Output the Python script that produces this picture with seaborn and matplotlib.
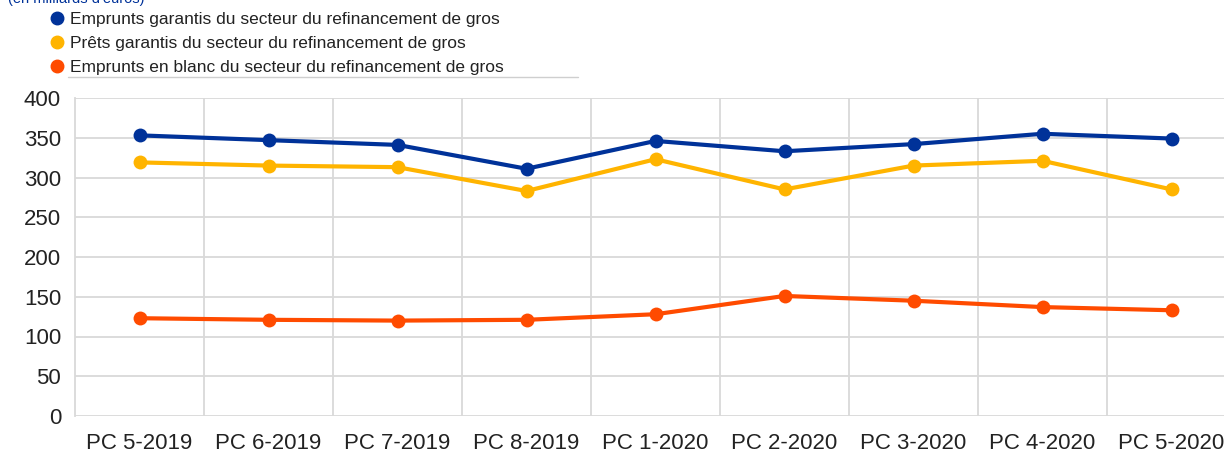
import numpy as np
import pandas as pd
import seaborn as sns
import matplotlib.pyplot as plt
from matplotlib.lines import Line2D

periods = ['PC 5-2019', 'PC 6-2019', 'PC 7-2019', 'PC 8-2019', 'PC 1-2020',
           'PC 2-2020', 'PC 3-2020', 'PC 4-2020', 'PC 5-2020']
emprunts_garantis = [353, 347, 341, 311, 346, 333, 342, 355, 349]
prets_garantis = [319, 315, 313, 283, 323, 285, 315, 321, 285]
emprunts_blanc = [123, 121, 120, 121, 128, 151, 145, 137, 133]

series_names = ['Emprunts garantis du secteur du refinancement de gros',
                'Prêts garantis du secteur du refinancement de gros',
                'Emprunts en blanc du secteur du refinancement de gros']
colors = ['#003299', '#FFB400', '#FF4B00']

df = pd.concat([
    pd.DataFrame({'period': periods, 'value': vals, 'series': name})
    for name, vals in zip(series_names, [emprunts_garantis, prets_garantis, emprunts_blanc])
])
df['x'] = df['period'].map({p: i for i, p in enumerate(periods)})

sns.set_style('white')
plt.rcParams['font.family'] = ['Liberation Sans', 'DejaVu Sans']

fig = plt.figure(figsize=(12.24, 4.54), dpi=100)
ax = fig.add_axes([75 / 1224, 38 / 454, 1161 / 1224, 318 / 454])

sns.lineplot(data=df, x='x', y='value', hue='series', palette=colors,
             marker='o', markersize=10, markeredgewidth=0, linewidth=3,
             legend=False, ax=ax)

ax.set_xlim(-0.5, len(periods) - 0.5)
ax.set_ylim(0, 400)
ax.set_yticks(np.arange(0, 401, 50))
ax.set_xticks(range(len(periods)))
ax.set_xticklabels(periods)
ax.set_xticks(np.arange(0.5, len(periods) - 1, 1), minor=True)
ax.tick_params(axis='both', which='major', length=0, labelsize=16, colors='#222222')
ax.tick_params(axis='x', which='major', pad=12)
ax.tick_params(axis='y', which='major', pad=10)
ax.tick_params(axis='x', which='minor', length=0)
ax.grid(axis='y', which='major', color='#d9d9d9', linewidth=1.3)
ax.grid(axis='x', which='minor', color='#d9d9d9', linewidth=1.3)
ax.set_axisbelow(True)
ax.set_xlabel('')
ax.set_ylabel('')
for side in ['top', 'right', 'bottom']:
    ax.spines[side].set_visible(False)
ax.spines['left'].set_color('#d9d9d9')
ax.spines['left'].set_linewidth(1.3)

handles = [Line2D([], [], linestyle='none', marker='o', markersize=9, color=c) for c in colors]
fig.legend(handles, series_names, loc='upper left', bbox_to_anchor=(53 / 1224, 1 - 12 / 454),
           frameon=False, fontsize=12.5, handlelength=0.5, handletextpad=0.5,
           labelspacing=0.5, borderpad=0, borderaxespad=0, labelcolor='#222222')

fig.text(8 / 1224, 1 + 1 / 454, "(en milliards d'euros)", fontsize=10.5, color='#003299',
         ha='left', va='center')
fig.add_artist(Line2D([68 / 1224, 578 / 1224], [1 - 77 / 454, 1 - 77 / 454],
                      color='#cfcfcf', linewidth=1))

plt.savefig('out.png', dpi=100)
